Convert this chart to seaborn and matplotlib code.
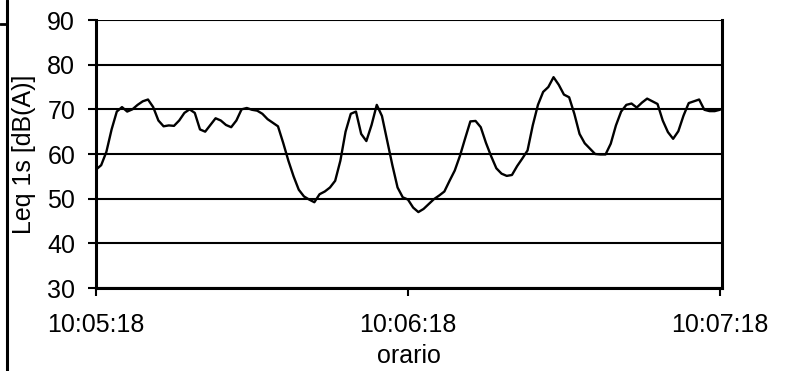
import pandas as pd
import matplotlib
matplotlib.use("Agg")
import matplotlib.pyplot as plt
from matplotlib.lines import Line2D
import seaborn as sns

# Leq 1s readings, one per second starting at 10:05:18
seconds = list(range(121))
leq = [
    56.5, 57.5, 60.5, 65.5, 69.5, 70.5, 69.5, 70.0, 71.0, 71.8,
    72.2, 70.5, 67.5, 66.2, 66.4, 66.3, 67.5, 69.2, 70.0, 69.2,
    65.5, 65.0, 66.5, 68.0, 67.5, 66.5, 66.0, 67.5, 70.0, 70.3,
    69.9, 69.7, 69.0, 67.8, 67.0, 66.2, 62.5, 58.5, 55.0, 52.0,
    50.5, 49.8, 49.2, 51.0, 51.6, 52.5, 54.0, 58.5, 65.0, 69.0,
    69.5, 64.5, 62.9, 66.5, 71.0, 68.5, 63.0, 57.5, 52.5, 50.3,
    49.8, 48.0, 47.0, 47.7, 48.8, 49.9, 50.7, 51.6, 54.0, 56.3,
    59.6, 63.5, 67.3, 67.4, 66.0, 62.5, 59.5, 56.8, 55.6, 55.1,
    55.3, 57.3, 59.0, 60.8, 66.4, 71.0, 73.9, 75.0, 77.2, 75.5,
    73.3, 72.7, 69.0, 64.5, 62.4, 61.2, 60.0, 59.9, 59.9, 62.3,
    66.4, 69.5, 71.0, 71.3, 70.4, 71.5, 72.4, 71.8, 71.2, 67.5,
    64.9, 63.4, 65.1, 68.6, 71.4, 71.8, 72.2, 69.9, 69.6, 69.6,
    69.9,
]
x_ticks = [0, 60, 120]
x_labels = ["10:05:18", "10:06:18", "10:07:18"]
y_ticks = [30, 40, 50, 60, 70, 80, 90]

df = pd.DataFrame({"t": seconds, "leq": leq})

sns.set_theme(style="white")
plt.rcParams["font.family"] = ["Liberation Sans", "DejaVu Sans"]

fig = plt.figure(figsize=(7.89, 3.71), dpi=100)
ax = fig.add_axes([96 / 789, 1 - 288 / 371, 626 / 789, 268 / 371])

# horizontal gridlines
for yv in y_ticks:
    ax.axhline(yv, color="black", lw=1.5, zorder=1)

sns.lineplot(data=df, x="t", y="leq", ax=ax, color="black", lw=1.7, zorder=3)

ax.set_xlim(0, 120.4)
ax.set_ylim(30, 90)
ax.set_yticks(y_ticks)
ax.set_xticks(x_ticks)
ax.set_xticklabels(x_labels)
ax.tick_params(axis="both", labelsize=18, colors="black", direction="out",
               length=6, width=1.5)
ax.tick_params(axis="y", pad=9)
ax.tick_params(axis="x", pad=12)
ax.tick_params(left=True, bottom=True)

for side in ["left", "bottom", "right"]:
    ax.spines[side].set_visible(True)
    ax.spines[side].set_color("black")
    ax.spines[side].set_linewidth(2.2)
ax.spines["top"].set_visible(False)

ax.set_xlabel("orario", fontsize=18, color="black", labelpad=5)
ax.set_ylabel("Leq 1s [dB(A)]", fontsize=18, color="black", labelpad=8)

# left page border fragment
fig.add_artist(Line2D([7 / 789, 7 / 789], [0, 1], color="black", lw=2.2))
fig.add_artist(Line2D([0, 7 / 789], [1 - 24 / 371, 1 - 24 / 371], color="black", lw=2))

fig.savefig("out.png", dpi=100)
